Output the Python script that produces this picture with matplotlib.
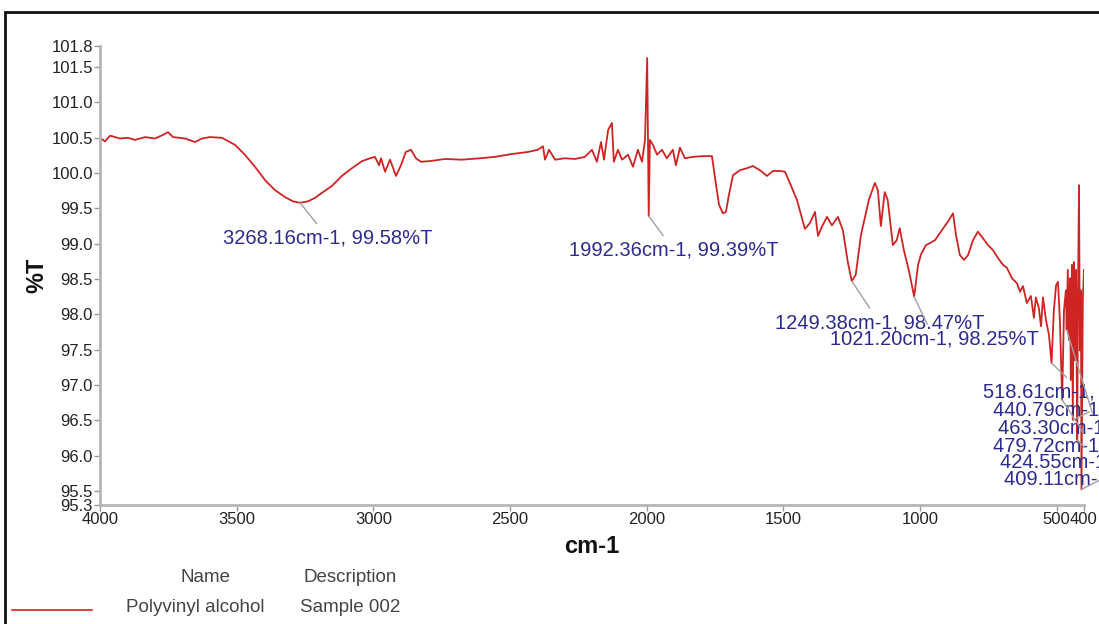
import matplotlib
matplotlib.use("Agg")
import matplotlib.pyplot as plt
from matplotlib.patches import Rectangle

plt.rcParams['font.family'] = ['Liberation Sans', 'DejaVu Sans']

# spectrum: wavenumber (cm-1) and %T
wavenumber = [4000, 3982, 3963, 3927, 3898, 3872, 3835, 3799, 3770, 3751,
              3733, 3689, 3652, 3627, 3598, 3554, 3506, 3470, 3433, 3396,
              3360, 3323, 3294, 3268.16, 3239, 3213, 3188, 3151, 3115, 3078,
              3041, 3012, 2994, 2979, 2972, 2957, 2939, 2917, 2899, 2881,
              2862, 2844, 2826, 2793, 2738, 2676, 2610, 2555, 2493, 2434,
              2398, 2379, 2372, 2357, 2335, 2299, 2262, 2226, 2200, 2182,
              2167, 2156, 2141, 2127, 2120, 2105, 2090, 2068, 2050, 2032,
              2017, 2006, 1998, 1992.36, 1988, 1977, 1962, 1944, 1926, 1904,
              1893, 1878, 1860, 1831, 1794, 1761, 1746, 1735, 1721, 1710,
              1699, 1684, 1659, 1633, 1611, 1585, 1560, 1538, 1512, 1494,
              1476, 1450, 1421, 1403, 1384, 1373, 1359, 1340, 1322, 1300,
              1282, 1264, 1249.38, 1235, 1216, 1187, 1165, 1154, 1143, 1129,
              1118, 1099, 1085, 1074, 1059, 1041, 1021.20, 1007, 996, 978,
              963, 945, 920, 898, 879, 868, 854, 839, 824, 806,
              788, 770, 751, 733, 715, 696, 682, 663, 645, 634,
              623, 609, 594, 583, 576, 565, 557, 550, 539, 528,
              518.61, 510, 502, 495, 488, 479.72, 473, 466, 463.30, 459,
              455, 451, 448, 444, 440.79, 437, 433, 429, 424.55, 422,
              418, 415, 411, 409.11, 404, 400]
transmittance = [100.50, 100.45, 100.53, 100.49, 100.50, 100.47, 100.51, 100.49, 100.54, 100.58,
                 100.51, 100.49, 100.44, 100.49, 100.51, 100.50, 100.40, 100.26, 100.09, 99.90,
                 99.76, 99.66, 99.60, 99.58, 99.60, 99.65, 99.72, 99.82, 99.96, 100.07,
                 100.17, 100.21, 100.23, 100.11, 100.21, 100.02, 100.19, 99.96, 100.11, 100.30,
                 100.33, 100.21, 100.16, 100.17, 100.20, 100.19, 100.21, 100.23, 100.27, 100.30,
                 100.33, 100.38, 100.19, 100.33, 100.19, 100.21, 100.20, 100.23, 100.33, 100.16,
                 100.44, 100.19, 100.61, 100.71, 100.16, 100.33, 100.19, 100.26, 100.09, 100.33,
                 100.16, 100.47, 101.63, 99.39, 100.47, 100.40, 100.26, 100.33, 100.21, 100.33,
                 100.11, 100.36, 100.21, 100.23, 100.24, 100.24, 99.83, 99.55, 99.43, 99.45,
                 99.69, 99.97, 100.04, 100.07, 100.10, 100.04, 99.96, 100.03, 100.03, 100.02,
                 99.86, 99.62, 99.21, 99.29, 99.45, 99.11, 99.24, 99.38, 99.26, 99.38,
                 99.19, 98.74, 98.47, 98.56, 99.12, 99.62, 99.86, 99.76, 99.25, 99.73,
                 99.62, 98.98, 99.05, 99.22, 98.91, 98.63, 98.25, 98.70, 98.85, 98.98,
                 99.01, 99.05, 99.19, 99.31, 99.43, 99.12, 98.84, 98.77, 98.84, 99.05,
                 99.17, 99.08, 98.98, 98.91, 98.80, 98.70, 98.66, 98.51, 98.44, 98.32,
                 98.40, 98.16, 98.26, 97.95, 98.24, 98.09, 97.83, 98.24, 97.92, 97.71,
                 97.31, 98.06, 98.41, 98.46, 97.92, 96.79, 98.06, 98.34, 97.78, 98.63,
                 97.64, 98.51, 97.07, 98.70, 96.50, 98.74, 97.35, 98.63, 96.22, 98.20,
                 99.83, 97.49, 98.34, 95.52, 98.20, 98.63]

# peak labels: wavenumber, %T, label position (wavenumber, %T), alignment
peak_wn = [3268.16, 1992.36, 1249.38, 1021.20, 518.61, 440.79, 463.30, 479.72, 424.55, 409.11]
peak_t = [99.58, 99.39, 98.47, 98.25, 97.31, 96.50, 97.78, 96.79, 96.22, 95.52]
label_wn = [3165, 1900, 1148, 948, 770, 733, 715, 733, 707, 693]
label_t = [99.08, 98.91, 97.88, 97.65, 96.90, 96.64, 96.39, 96.13, 95.91, 95.67]
label_ha = ['center', 'center', 'center', 'center', 'left', 'left', 'left', 'left', 'left', 'left']

y_ticks = [95.3, 95.5, 96.0, 96.5, 97.0, 97.5, 98.0, 98.5, 99.0, 99.5,
           100.0, 100.5, 101.0, 101.5, 101.8]
x_ticks = [4000, 3500, 3000, 2500, 2000, 1500, 1000, 500, 400]
x_tick_labels = ['4000', '3500', '3000', '2500', '2000', '1500', '1000', '500', '400']

fig = plt.figure(figsize=(10.99, 6.24), dpi=100)
ax = fig.add_axes([0.091, 0.1907, 0.8953, 0.7356])

ax.plot(wavenumber, transmittance, color='#cf2424', lw=1.3)

ax.set_xlim(4000, 400)
ax.set_ylim(95.3, 101.8)
ax.set_yticks(y_ticks)
ax.set_yticklabels(['%.1f' % t for t in y_ticks])
ax.set_xticks(x_ticks)
ax.set_xticklabels(x_tick_labels)

for side in ['top', 'right']:
    ax.spines[side].set_visible(False)
for side in ['left', 'bottom']:
    ax.spines[side].set_color('#b5b5b5')
    ax.spines[side].set_linewidth(2)
ax.tick_params(colors='#9a9a9a', labelcolor='#222222', labelsize=12,
               length=4, width=1, pad=1)

ax.set_xlabel('cm-1', fontsize=17, fontweight='bold', color='#111111', labelpad=6)
ax.set_ylabel('%T', fontsize=17, fontweight='bold', color='#111111', labelpad=2)

for i in range(len(peak_wn)):
    txt = '%.2fcm-1, %.2f%%T' % (peak_wn[i], peak_t[i])
    ax.annotate(txt, xy=(peak_wn[i], peak_t[i]), xytext=(label_wn[i], label_t[i]),
                ha=label_ha[i], va='center', fontsize=14.5, color='#2b2b8f',
                annotation_clip=False,
                arrowprops=dict(arrowstyle='-', color='#a0a0a0', lw=1,
                                shrinkA=2, shrinkB=0))

# legend table under the plot
fig.text(205 / 1099, 1 - 577 / 624, 'Name', ha='center', va='center',
         fontsize=13.5, color='#444444')
fig.text(350 / 1099, 1 - 577 / 624, 'Description', ha='center', va='center',
         fontsize=13.5, color='#444444')
fig.text(195 / 1099, 1 - 607 / 624, 'Polyvinyl alcohol', ha='center', va='center',
         fontsize=13.5, color='#444444')
fig.text(350 / 1099, 1 - 607 / 624, 'Sample 002', ha='center', va='center',
         fontsize=13.5, color='#444444')
fig.add_artist(plt.Line2D([12 / 1099, 92 / 1099], [1 - 610 / 624, 1 - 610 / 624],
                          color='#d42222', lw=1.2))

# outer frame
fig.add_artist(Rectangle((5 / 1099, -0.1), 1.2, 1.1 - 12 / 624,
                         transform=fig.transFigure, fill=False,
                         edgecolor='#111111', lw=2))

fig.savefig('out.png', dpi=100)
